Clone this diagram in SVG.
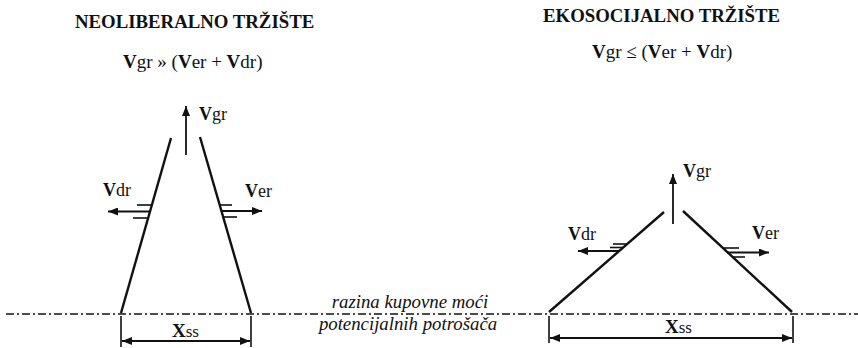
<svg xmlns="http://www.w3.org/2000/svg" width="858" height="348" viewBox="0 0 858 348">
<style>
text{font-family:"Liberation Serif","Times New Roman",serif;fill:#111}
.title{font-size:18.8px;font-weight:bold}
.f{font-size:18px}
.fm{font-size:19px}
.b{font-weight:bold}
.it{font-style:italic;font-size:18.8px}
.side{stroke:#111;stroke-width:2.4;fill:none}
.arr{stroke:#111;stroke-width:1.8;fill:none}
.h{stroke:#111;stroke-width:1.6}
.dash{stroke:#111;stroke-width:1.6;stroke-dasharray:8 3 2 3}
</style>
<defs>
<marker id="ah" viewBox="0 0 10 8" refX="10" refY="4" markerWidth="10" markerHeight="8" markerUnits="userSpaceOnUse" orient="auto-start-reverse">
<path d="M0,0 L10,4 L0,8 Z" fill="#111"/>
</marker>
</defs>
<rect width="858" height="348" fill="#fff"/>

<g id="title-left">
<text class="title" x="75" y="28">NEOLIBERALNO TRŽIŠTE</text>
<text class="fm" x="123" y="68"><tspan class="b">V</tspan>gr » (<tspan class="b">V</tspan>er + <tspan class="b">V</tspan>dr)</text>
</g>
<g id="title-right">
<text class="title" x="543" y="22">EKOSOCIJALNO TRŽIŠTE</text>
<text class="fm" x="592" y="58"><tspan class="b">V</tspan>gr ≤ (<tspan class="b">V</tspan>er + <tspan class="b">V</tspan>dr)</text>
</g>

<g id="baseline">
<line class="dash" x1="6" y1="314" x2="858" y2="314"/>
<text class="it" x="410" y="308" text-anchor="middle">razina kupovne moći</text>
<text class="it" x="408" y="330" text-anchor="middle">potencijalnih potrošača</text>
</g>

<g id="neoliberal">
<line class="side" x1="121" y1="313" x2="171" y2="138"/>
<line class="side" x1="200" y1="137" x2="251" y2="313"/>
<text class="f" x="199" y="120"><tspan class="b">V</tspan>gr</text>
<text class="f" x="103" y="196"><tspan class="b">V</tspan>dr</text>
<text class="f" x="245" y="197"><tspan class="b">V</tspan>er</text>
<line class="h" x1="137" y1="205" x2="152" y2="205"/>
<line class="h" x1="133" y1="218" x2="149" y2="218"/>
<line class="h" x1="220" y1="205" x2="232" y2="205"/>
<line class="h" x1="223" y1="217" x2="237" y2="217"/>
<line class="arr" x1="150" y1="211.5" x2="108" y2="211.5" marker-end="url(#ah)"/>
<line class="arr" x1="221" y1="211" x2="262" y2="211" marker-end="url(#ah)"/>
<line class="arr" x1="186" y1="155" x2="186" y2="106" marker-end="url(#ah)"/>
<line class="h" x1="121" y1="316" x2="121" y2="347"/>
<line class="h" x1="251" y1="316" x2="251" y2="347"/>
<line class="arr" x1="122" y1="341" x2="250" y2="341" marker-start="url(#ah)" marker-end="url(#ah)"/>
<text class="f" x="172" y="337"><tspan class="b" font-size="19">X</tspan><tspan font-size="17">ss</tspan></text>
</g>

<g id="ekosocijal">
<line class="side" x1="549" y1="312" x2="664" y2="212"/>
<line class="side" x1="683" y1="211" x2="792" y2="312"/>
<text class="f" x="683" y="177"><tspan class="b">V</tspan>gr</text>
<text class="f" x="568" y="240"><tspan class="b">V</tspan>dr</text>
<text class="f" x="752" y="239"><tspan class="b">V</tspan>er</text>
<line class="h" x1="613" y1="244" x2="627" y2="244"/>
<line class="h" x1="610" y1="247.5" x2="623" y2="247.5"/>
<line class="arr" x1="620" y1="251" x2="578" y2="251" marker-end="url(#ah)"/>
<line class="h" x1="724" y1="248" x2="739" y2="248"/>
<line class="h" x1="733" y1="257" x2="745" y2="257"/>
<line class="arr" x1="727" y1="252.5" x2="769" y2="252.5" marker-end="url(#ah)"/>
<line class="arr" x1="673" y1="224" x2="673" y2="174" marker-end="url(#ah)"/>
<line class="h" x1="549" y1="316" x2="549" y2="343"/>
<line class="h" x1="793" y1="316" x2="793" y2="343"/>
<line class="arr" x1="550" y1="338" x2="792" y2="338" marker-start="url(#ah)" marker-end="url(#ah)"/>
<text class="f" x="665" y="333"><tspan class="b" font-size="19">X</tspan><tspan font-size="17">ss</tspan></text>
</g>
</svg>
